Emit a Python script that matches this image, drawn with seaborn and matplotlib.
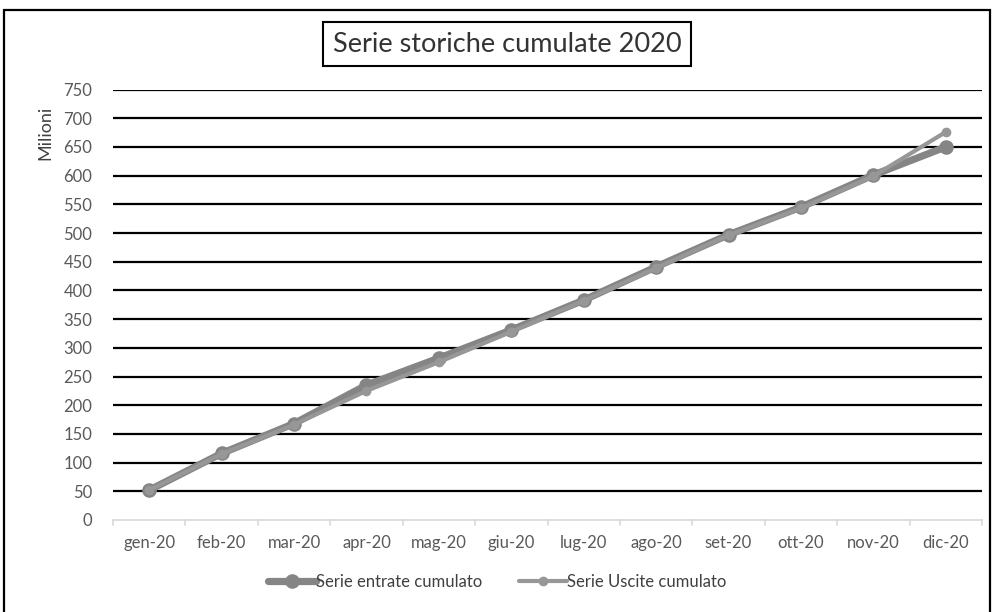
import matplotlib
matplotlib.use("Agg")
import matplotlib.pyplot as plt
from matplotlib.patches import Rectangle
from matplotlib.lines import Line2D
import seaborn as sns
import pandas as pd

# Monthly cumulative totals (millions)
mesi = ["gen-20", "feb-20", "mar-20", "apr-20", "mag-20", "giu-20",
        "lug-20", "ago-20", "set-20", "ott-20", "nov-20", "dic-20"]
entrate = [52, 116, 168, 235, 282, 331, 383, 441, 497, 545, 601, 650]
uscite = [52, 115, 166, 225, 275, 328, 382, 439, 496, 543, 599, 676]
y_ticks = list(range(0, 800, 50))

sns.set_theme(style="white")
plt.rcParams["font.family"] = ["Lato", "DejaVu Sans"]

W, H = 994, 612
fig = plt.figure(figsize=(W / 100, H / 100), dpi=100)
ax = fig.add_axes([113 / W, 1 - 520 / H, (982 - 113) / W, (520 - 89.5) / H])

df = pd.DataFrame({"x": range(len(mesi)), "entrate": entrate, "uscite": uscite})

c_ent = "#858585"
c_usc = "#979797"
sns.lineplot(data=df, x="x", y="entrate", ax=ax, color=c_ent, linewidth=5.2,
             marker="o", markersize=10.5, markeredgewidth=0, zorder=3)
sns.lineplot(data=df, x="x", y="uscite", ax=ax, color=c_usc, linewidth=3,
             marker="o", markersize=7, markeredgewidth=0, zorder=4)

ax.set_xlim(-0.5, len(mesi) - 0.5)
ax.set_ylim(0, 750)
ax.set_yticks(y_ticks)
ax.set_yticklabels([str(v) for v in y_ticks])
ax.set_xticks(range(len(mesi)))
ax.set_xticklabels(mesi)
ax.set_xlabel("")
ax.set_ylabel("")

# black horizontal gridlines (skip zero: that is the category axis)
for v in y_ticks[1:]:
    ax.axhline(v, color="black", linewidth=1.6, zorder=1)

for s in ["top", "right", "left"]:
    ax.spines[s].set_visible(False)
ax.spines["bottom"].set_color("#d9d9d9")
ax.spines["bottom"].set_linewidth(1.2)

ax.tick_params(axis="y", length=0, pad=15, labelsize=12, labelcolor="#595959")
ax.tick_params(axis="x", length=0, pad=11, labelsize=12, labelcolor="#595959")

# category boundary tick marks
for b in [i - 0.5 for i in range(len(mesi) + 1)]:
    ax.plot([b, b], [0, -9], color="#d9d9d9", linewidth=1.2, clip_on=False,
            zorder=2)

fig.text(45 / W, 1 - 133 / H, "Milioni", rotation=90, ha="center", va="center",
         fontsize=13, color="#404040")

fig.text(507 / W, 1 - 44 / H, "Serie storiche cumulate 2020", ha="center",
         va="center", fontsize=19.5, color="#333333",
         bbox=dict(boxstyle="square,pad=0.35", facecolor="white",
                   edgecolor="black", linewidth=1.5))

handles = [
    Line2D([], [], color=c_ent, linewidth=5.2, marker="o", markersize=10.5,
           markeredgewidth=0),
    Line2D([], [], color=c_usc, linewidth=3, marker="o", markersize=7,
           markeredgewidth=0),
]
fig.legend(handles, ["Serie entrate cumulato", "Serie Uscite cumulato"],
           loc="center", bbox_to_anchor=(0.5, 1 - 582 / H), ncol=2,
           frameon=False, fontsize=12, handlelength=2.9, handletextpad=0.0,
           columnspacing=2.2, labelcolor="#404040")

fig.patches.append(Rectangle((4 / W, -0.02), 986 / W, 1.02 - 10 / H,
                             transform=fig.transFigure, fill=False,
                             edgecolor="black", linewidth=1.6))

fig.savefig("out.png", dpi=100)
